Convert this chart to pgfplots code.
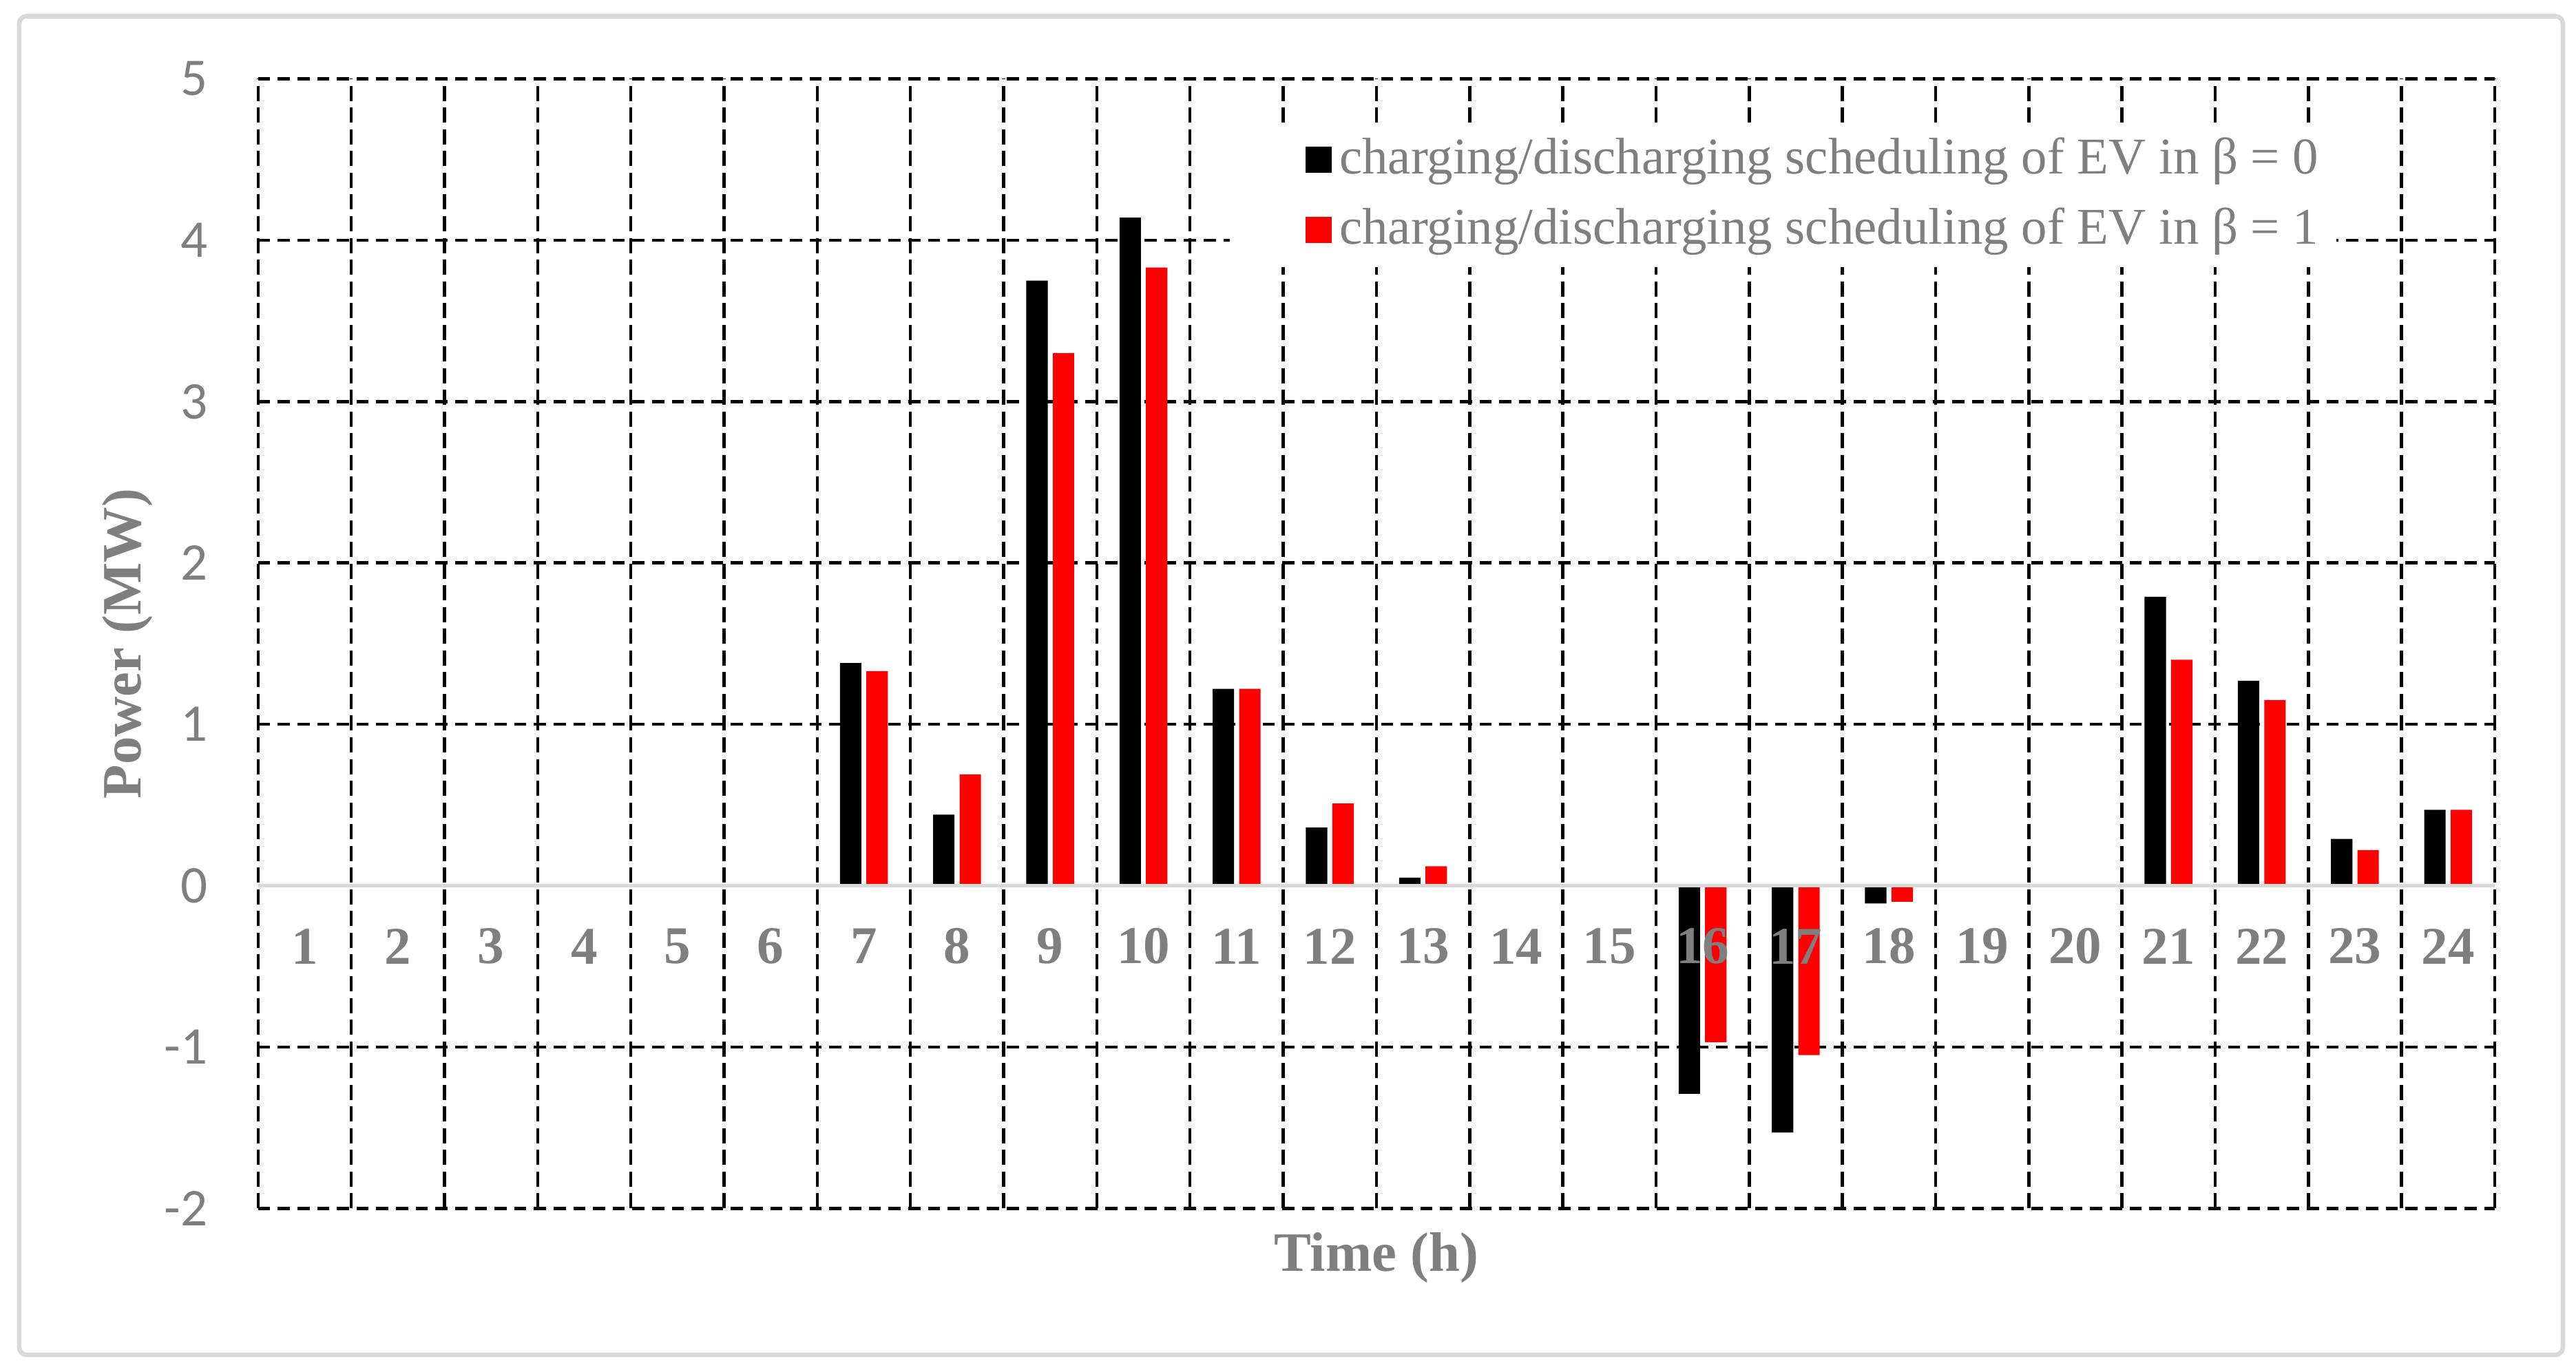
\documentclass[border=0pt]{standalone}
\usepackage{fontspec}
\setmainfont{Liberation Serif}
\newfontfamily\carlito{Carlito}
\usepackage{pgfplots}
\pgfplotsset{compat=1.18}
\definecolor{textgray}{HTML}{7F7F7F}
\definecolor{framegray}{HTML}{D9D9D9}
\definecolor{evred}{HTML}{FF0000}
% tick labels above the bars (labels 16 and 17 sit on the bars)
\pgfplotsset{layers/labelsontop/.define layer set={
    axis background,axis grid,axis ticks,axis lines,pre main,main,
    axis tick labels,axis descriptions,axis foreground}{/pgfplots/layers/standard}}

\begin{document}
\begin{tikzpicture}
\begin{axis}[
  set layers=labelsontop,
  scale only axis,
  width=442.8pt, height=223.7pt,
  xmin=0.5, xmax=24.5,
  ymin=-2, ymax=5,
  xtick={1,...,24},
  xticklabels={1,2,3,4,5,6,7,8,9,10,11,12,13,14,15,16,17,18,19,20,21,22,23,24},
  minor xtick={0.5,1.5,...,24.5},
  ytick={-2,...,5},
  yticklabels={-2,-1,0,1,2,3,4,5},
  major tick length=0pt, minor tick length=0pt,
  axis line style={draw=none},
  ymajorgrids, xminorgrids,
  major grid style={black, line width=0.62pt, dash pattern=on 2.4pt off 1.5pt},
  minor grid style={black, line width=0.62pt, dash pattern=on 3pt off 1.3pt},
  x tick label style={font=\fontsize{10.5}{12}\selectfont\bfseries, text=textgray, anchor=center, yshift=51.9pt},
  y tick label style={font=\fontsize{10.5}{12}\selectfont\carlito, text=textgray, anchor=east, xshift=-6.5pt},
  xlabel={Time (h)},
  ylabel={Power (MW)},
  xlabel style={font=\fontsize{11}{13}\selectfont\bfseries, text=textgray, at={(axis description cs:0.5,-0.0434)}, anchor=center},
  ylabel style={font=\fontsize{11}{13}\selectfont\bfseries, text=textgray, at={(axis description cs:-0.0583,0.5)}, anchor=center},
  bar width=0.23,
  legend style={at={(axis description cs:0.434,0.962)}, anchor=north west, draw=none, fill=white,
    font=\fontsize{10.2}{12}\selectfont, text=textgray, inner xsep=2pt, inner ysep=2pt,
    row sep=3.2pt, cells={anchor=west}, nodes={inner xsep=1.5pt, inner ysep=1pt}},
  legend image code/.code={\path (-13pt,0pt); \fill[#1] (0pt,-2.6pt) rectangle (5.2pt,2.6pt);},
]
\addplot[ybar, fill=black, draw=none, bar shift=-0.142] coordinates {
  (7,1.38) (8,0.44) (9,3.75) (10,4.14) (11,1.22) (12,0.36) (13,0.05)
  (16,-1.29) (17,-1.53) (18,-0.11)
  (21,1.79) (22,1.27) (23,0.29) (24,0.47)
};
\addplot[ybar, fill=evred, draw=none, bar shift=0.142] coordinates {
  (7,1.33) (8,0.69) (9,3.30) (10,3.83) (11,1.22) (12,0.51) (13,0.12)
  (16,-0.97) (17,-1.05) (18,-0.10)
  (21,1.40) (22,1.15) (23,0.22) (24,0.47)
};
\legend{charging/discharging scheduling of EV in β = 0, charging/discharging scheduling of EV in β = 1}
\draw[framegray, line width=0.75pt] (axis cs:0.5,0) -- (axis cs:24.5,0);
\end{axis}
\draw[framegray, line width=0.9pt, rounded corners=1.5pt] (-47.3pt,-29.0pt) rectangle (456.3pt,236.1pt);
\path (-51.1pt,-32.3pt) rectangle (458.9pt,239.3pt);
\end{tikzpicture}
\end{document}
